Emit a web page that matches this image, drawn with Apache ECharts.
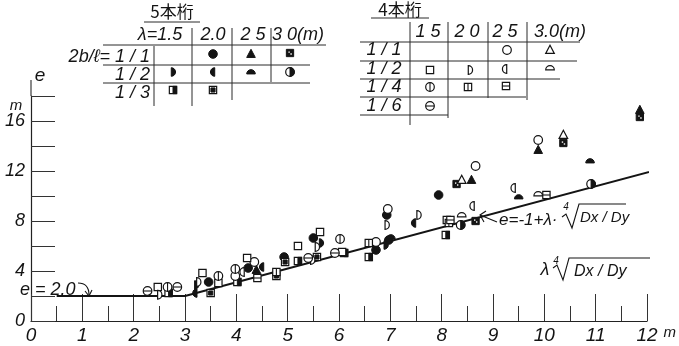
<!DOCTYPE html>
<html>
<head>
<meta charset="utf-8">
<script src="https://cdn.jsdelivr.net/npm/echarts@6/dist/echarts.min.js"></script>
<style>
  html, body { margin: 0; padding: 0; background: #fff; }
  #chart { width: 679px; height: 346px; }
</style>
</head>
<body>
<div id="chart"></div>
<script>
// ---- data (x = λ·(Dx/Dy)^(1/4), y = e, both in m) ----
// 5本桁 (filled marks)
var dot11 = [[3.46, 3.12], [4.23, 4.24], [4.93, 5.12], [5.50, 6.64], [6.72, 5.68], [6.93, 8.48], [7.94, 10.08], [6.97, 6.48]];
var tri11 = [[4.39, 4.08], [8.58, 11.28], [9.88, 13.68], [11.86, 16.88]];
var sqDot11 = [[8.29, 10.96], [10.37, 14.24], [11.86, 16.32], [8.66, 8.0]];
var halfR12 = [[3.22, 2.88], [5.65, 6.24], [6.91, 6.08]];
var halfL12 = [[3.20, 2.24], [4.50, 4.32], [7.46, 7.84]];
var dome12 = [[7.01, 6.72], [9.50, 9.92], [10.89, 12.8]];
var halfC12 = [[10.91, 10.96], [8.37, 7.68]];
var sqHalf13 = [[2.68, 2.24], [4.02, 3.12], [5.20, 4.8], [6.10, 5.44], [6.58, 5.12], [8.08, 6.88]];
var sqMix13 = [[3.50, 2.24], [4.95, 4.72], [5.57, 5.12], [4.78, 3.6]];
// 4本桁 (open marks)
var circ11 = [[4.35, 4.72], [3.98, 3.6], [6.72, 6.32], [6.95, 8.96], [8.66, 12.4], [9.88, 14.48]];
var oTri11 = [[8.39, 11.28], [10.37, 14.88]];
var oSq12 = [[2.47, 2.72], [3.34, 3.84], [3.65, 3.04], [4.21, 5.04], [5.20, 6.0], [5.63, 7.12], [6.06, 5.52], [8.10, 8.08]];
var oD12 = [[2.50, 2.1], [3.26, 3.12], [5.48, 4.88], [5.57, 5.92], [6.93, 7.68], [7.55, 8.48]];
var oL12 = [[4.12, 3.92], [8.60, 9.2], [9.40, 10.64]];
var oDome12 = [[8.39, 8.48], [9.88, 10.16]];
var cVl14 = [[2.66, 2.72], [3.65, 3.6], [3.98, 4.16], [6.02, 6.56]];
var sqVl14 = [[4.78, 3.92], [6.58, 6.24], [8.14, 7.84]];
var sqHl14 = [[4.41, 3.44], [10.04, 10.08], [8.17, 8.08]];
var cHl16 = [[2.27, 2.4], [2.85, 2.72], [5.40, 5.04], [5.92, 5.44]];

// design line e = 2.0, then e = -1 + λ·(Dx/Dy)^(1/4) as drawn
var lineX = [0.5, 3, 12.3];
var lineE = [2, 2, 12.2];

var xTicks = [0, 1, 2, 3, 4, 5, 6, 7, 8, 9, 10, 11, 12];
var yTicks = [0, 4, 8, 12, 16];

// table headings
var span5 = ['λ=1.5', '2.0', '2 5', '3 0(m)'];
var ratio5 = ['2b/ℓ= 1 / 1', '1 / 2', '1 / 3'];
var span4 = ['1 5', '2 0', '2 5', '3.0(m)'];
var ratio4 = ['1 / 1', '1 / 2', '1 / 4', '1 / 6'];

var INK = '#141414';
var HAND = '"Liberation Sans", "DejaVu Sans", sans-serif';

function glyph(kind, x, y, r) {
  var W = { fill: '#fff', stroke: INK, lineWidth: 1.2 };
  var B = { fill: INK, stroke: INK, lineWidth: 1 };
  var L = { stroke: INK, lineWidth: 1.1, fill: null };
  var PI = Math.PI, c = [], s = r * 0.85;
  function circ(st) { c.push({ type: 'circle', shape: { cx: x, cy: y, r: r }, style: st }); }
  function sq(st) { c.push({ type: 'rect', shape: { x: x - s, y: y - s, width: 2 * s, height: 2 * s }, style: st }); }
  function sec(cx, cy, a0, a1, st) {
    c.push({ type: 'sector', shape: { cx: cx, cy: cy, r: r, r0: 0, startAngle: a0, endAngle: a1, clockwise: true }, style: st });
  }
  function ln(x1, y1, x2, y2) { c.push({ type: 'line', shape: { x1: x1, y1: y1, x2: x2, y2: y2 }, style: L }); }
  function tri(st) { c.push({ type: 'polygon', shape: { points: [[x, y - r * 1.1], [x + r, y + r * 0.8], [x - r, y + r * 0.8]] }, style: st }); }
  switch (kind) {
    case 'dot': circ(B); break;
    case 'tri': tri(B); break;
    case 'sqdot':
      sq(B);
      c.push({ type: 'rect', shape: { x: x - 1.6, y: y - 1.6, width: 1.4, height: 1.4 }, style: { fill: '#fff' } });
      c.push({ type: 'rect', shape: { x: x + 0.4, y: y + 0.3, width: 1.4, height: 1.4 }, style: { fill: '#fff' } });
      break;
    case 'halfR': sec(x - r * 0.4, y, -PI / 2, PI / 2, B); break;
    case 'halfL': sec(x + r * 0.4, y, PI / 2, PI * 1.5, B); break;
    case 'dome': sec(x, y + r * 0.45, PI, PI * 2, B); break;
    case 'halfC': circ(W); sec(x, y, -PI / 2, PI / 2, B); break;
    case 'sqhalf': sq(W); c.push({ type: 'rect', shape: { x: x, y: y - s, width: s, height: 2 * s }, style: B }); break;
    case 'sqmix': sq(W); c.push({ type: 'rect', shape: { x: x - s + 1.6, y: y - s + 1.6, width: 2 * s - 3.2, height: 2 * s - 3.2 }, style: B }); break;
    case 'circ': circ(W); break;
    case 'otri': tri(W); break;
    case 'osq': sq(W); break;
    case 'oD': sec(x - r * 0.4, y, -PI / 2, PI / 2, W); break;
    case 'oL': sec(x + r * 0.4, y, PI / 2, PI * 1.5, W); break;
    case 'odome': sec(x, y + r * 0.45, PI, PI * 2, W); break;
    case 'cvl': circ(W); ln(x, y - r, x, y + r); break;
    case 'sqvl': sq(W); ln(x, y - s, x, y + s); break;
    case 'sqhl': sq(W); ln(x - s, y, x + s, y); break;
    case 'chl': circ(W); ln(x - r, y, x + r, y); break;
  }
  return { type: 'group', children: c };
}

var groups = [
  ['dot', dot11], ['tri', tri11], ['sqdot', sqDot11], ['halfR', halfR12], ['halfL', halfL12],
  ['dome', dome12], ['halfC', halfC12], ['sqhalf', sqHalf13], ['sqmix', sqMix13],
  ['circ', circ11], ['otri', oTri11], ['osq', oSq12], ['oD', oD12], ['oL', oL12],
  ['odome', oDome12], ['cvl', cVl14], ['sqvl', sqVl14], ['sqhl', sqHl14], ['chl', cHl16]
];

// ---- helpers for the hand-drawn annotations ----
function txt(x, y, s, size, align, font) {
  return {
    type: 'text', x: x, y: y, z: 10,
    style: {
      text: s, fill: INK, font: (font || ('italic ' + size + 'px ' + HAND)),
      align: align || 'left', verticalAlign: 'middle',
      textAlign: align || 'left', textVerticalAlign: 'middle'
    }
  };
}
function seg(x1, y1, x2, y2, w) {
  return { type: 'line', z: 10, shape: { x1: x1, y1: y1, x2: x2, y2: y2 }, style: { stroke: '#2a2a2a', lineWidth: w || 1 } };
}
function poly(pts, w) {
  return { type: 'polyline', z: 10, shape: { points: pts }, style: { stroke: INK, lineWidth: w || 1.2, fill: null } };
}
function place(kind, x, y) { var g = glyph(kind, x, y, 4.3); g.z = 10; return g; }

var graphics = [];
// 5本桁 table
graphics.push(txt(172, 12, '5本桁', 16, 'center', '17px "Noto Sans CJK JP"'));
graphics.push(seg(144, 22, 200, 22));
var col5 = [160, 213, 253, 298];
span5.forEach(function (s, i) { graphics.push(txt(col5[i], 35, s, 18, 'center')); });
var row5 = [57, 75, 93];
ratio5.forEach(function (s, i) { graphics.push(txt(150, row5[i], s, 18, 'right')); });
graphics.push(seg(103, 45, 326, 45), seg(103, 65, 310, 65), seg(103, 83, 310, 83));
graphics.push(seg(154, 46, 154, 106), seg(192, 28, 192, 106), seg(232, 28, 232, 100), seg(271, 28, 271, 82));
[['dot', 213, 54], ['tri', 251, 54], ['sqdot', 290, 53],
 ['halfR', 173, 72], ['halfL', 213, 72], ['dome', 251, 72], ['halfC', 290, 72],
 ['sqhalf', 173, 90], ['sqmix', 213, 90]].forEach(function (g) { graphics.push(place(g[0], g[1], g[2])); });

// 4本桁 table
graphics.push(txt(400, 10, '4本桁', 16, 'center', '17px "Noto Sans CJK JP"'));
graphics.push(seg(371, 18, 429, 18));
var col4 = [428, 467, 505, 560];
span4.forEach(function (s, i) { graphics.push(txt(col4[i], 32, s, 18, 'center')); });
var row4 = [50, 69, 87, 106];
ratio4.forEach(function (s, i) { graphics.push(txt(384, row4[i], s, 18, 'center')); });
graphics.push(seg(360, 42, 580, 42), seg(360, 61, 577, 61), seg(360, 79, 560, 79), seg(360, 97, 526, 97), seg(360, 115, 448, 115));
graphics.push(seg(410, 22, 410, 125), seg(448, 22, 448, 118), seg(488, 22, 488, 98), seg(527, 22, 527, 100));
[['circ', 507, 50], ['otri', 550, 50],
 ['osq', 430, 70], ['oD', 470, 70], ['oL', 505, 69], ['odome', 550, 68],
 ['cvl', 430, 87], ['sqvl', 468, 87], ['sqhl', 506, 86], ['chl', 430, 106]].forEach(function (g) { graphics.push(place(g[0], g[1], g[2])); });

// axis names and line notes
graphics.push(seg(31, 80, 31, 96, 1.1));
graphics.push(txt(40, 76, 'e', 19, 'center'));
graphics.push(txt(16, 106, 'm', 15, 'center'));
graphics.push(txt(20, 290, 'e = 2.0', 18, 'left'));
graphics.push({ type: 'bezierCurve', z: 10, shape: { x1: 78, y1: 283, cpx1: 89, cpy1: 283, x2: 89, y2: 295 }, style: { stroke: INK, lineWidth: 1.1, fill: null } });
graphics.push(poly([[85, 291], [89, 296], [92, 290]], 1.1));
// e = -1 + λ·⁴√(Dx/Dy)
graphics.push(poly([[497, 222], [480, 215]], 1.1), poly([[486, 211], [480, 215], [484, 222]], 1.1));
graphics.push(txt(499, 220, 'e=-1+λ·', 17, 'left'));
graphics.push(txt(566, 207, '4', 10, 'center'));
graphics.push(poly([[562, 217], [566, 214], [572, 228], [579, 204], [626, 204]], 1.1));
graphics.push(txt(580, 218, 'Dx / Dy', 15, 'left'));
// λ·⁴√(Dx/Dy) axis note
graphics.push(txt(545, 270, 'λ', 18, 'center'));
graphics.push(txt(556, 261, '4', 10, 'center'));
graphics.push(poly([[553, 268], [557, 265], [563, 280], [569, 258], [650, 258]], 1.1));
graphics.push(txt(574, 272, 'Dx / Dy', 16, 'left'));

var chart = echarts.init(document.getElementById('chart'));
var series = groups.map(function (g) {
  return {
    type: 'custom',
    data: g[1],
    clip: false,
    z: 4,
    renderItem: function (params, api) {
      var p = api.coord([api.value(0), api.value(1)]);
      return glyph(g[0], p[0], p[1], 4.3);
    }
  };
});
series.push({
  type: 'line',
  data: lineX.map(function (x, i) { return [x, lineE[i]]; }),
  showSymbol: false,
  clip: false,
  z: 3,
  lineStyle: { color: INK, width: 2 }
});

chart.setOption({
  animation: false,
  backgroundColor: '#fff',
  grid: { left: 31, right: 30, top: 96, bottom: 25 },
  xAxis: {
    type: 'value', min: 0, max: 12, interval: 1,
    name: 'm', nameLocation: 'end', nameGap: 4,
    nameTextStyle: { fontStyle: 'italic', fontFamily: HAND, fontSize: 15, color: INK, verticalAlign: 'top', padding: [4, 0, 0, 0] },
    axisLine: { lineStyle: { color: '#222', width: 1.2 } },
    axisTick: { inside: true, length: 27, lineStyle: { color: '#333', width: 1 } },
    minorTick: { show: true, splitNumber: 2, length: 15, lineStyle: { color: '#333', width: 1 } },
    splitLine: { show: false },
    axisLabel: {
      margin: 5, color: INK, fontStyle: 'italic', fontFamily: HAND, fontSize: 19,
      formatter: function (v) { return xTicks.indexOf(v) >= 0 ? String(v) : ''; }
    }
  },
  yAxis: {
    type: 'value', min: 0, max: 18, interval: 2,
    axisLine: { show: true, lineStyle: { color: '#222', width: 1.2 } },
    axisTick: { show: true, inside: true, length: 24, lineStyle: { color: '#333', width: 1 } },
    splitLine: { show: false },
    axisLabel: {
      margin: 6, color: INK, fontStyle: 'italic', fontFamily: HAND, fontSize: 18,
      formatter: function (v) { return yTicks.indexOf(v) >= 0 ? String(v) : ''; }
    }
  },
  graphic: graphics,
  series: series
});
</script>
</body>
</html>
